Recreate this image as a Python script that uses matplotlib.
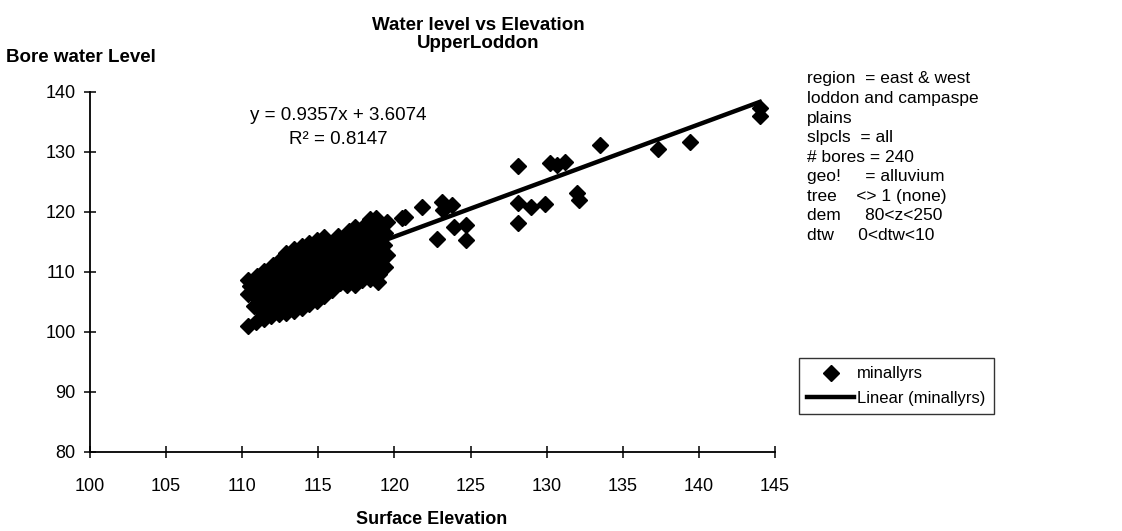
import matplotlib.pyplot as plt

plt.rcParams['font.family'] = ['Liberation Sans', 'DejaVu Sans']

# Surface elevation (x) and bore water level (y)
elev_cluster = [
    110.4, 110.4, 110.5, 110.4,
    110.9, 110.8, 111.0, 110.9, 110.8, 111.0,
    111.4, 111.3, 111.5, 111.4, 111.3, 111.5, 111.4,
    111.9, 112.0, 111.8, 111.9, 112.0, 111.9, 111.8, 112.0,
    112.4, 112.5, 112.3, 112.4, 112.5, 112.4, 112.3, 112.5,
    112.9, 113.0, 112.8, 112.9, 113.0, 112.9, 112.8, 113.0, 112.9,
    113.4, 113.5, 113.3, 113.4, 113.5, 113.4, 113.3, 113.5, 113.4,
    113.9, 114.0, 113.8, 113.9, 114.0, 113.9, 113.8, 114.0, 113.9,
    114.4, 114.5, 114.3, 114.4, 114.5, 114.4, 114.3, 114.5, 114.4,
    114.9, 115.0, 114.8, 114.9, 115.0, 114.9, 114.8, 115.0, 114.9,
    115.4, 115.5, 115.3, 115.4, 115.5, 115.4, 115.3, 115.5, 115.4,
    115.9, 116.0, 115.8, 115.9, 116.0, 115.9, 115.8,
    116.4, 116.5, 116.3, 116.4, 116.5, 116.4, 116.3,
    116.9, 117.0, 116.8, 116.9, 117.0, 116.9, 116.8, 117.0,
    117.4, 117.5, 117.3, 117.4, 117.5, 117.4, 117.3, 117.5, 117.4,
    117.9, 118.0, 117.8, 117.9, 118.0, 117.9, 117.8, 118.0,
    118.4, 118.5, 118.3, 118.4, 118.5, 118.4, 118.3, 118.5, 118.4,
    118.9, 119.0, 118.8, 118.9, 119.0, 118.9, 118.8,
    119.4, 119.5, 119.3, 119.4, 119.5,
]
level_cluster = [
    101.0, 106.3, 107.6, 108.6,
    101.6, 104.3, 105.6, 107.0, 108.3, 109.4,
    102.1, 103.4, 104.8, 106.2, 107.5, 108.8, 110.1,
    102.6, 103.9, 105.2, 106.5, 107.8, 109.1, 110.4, 111.2,
    103.0, 104.3, 105.6, 106.9, 108.2, 109.5, 110.8, 112.0,
    103.2, 104.5, 105.8, 107.1, 108.4, 109.7, 111.0, 112.3, 113.2,
    103.5, 104.8, 106.1, 107.4, 108.7, 110.0, 111.3, 112.6, 113.8,
    104.0, 105.3, 106.6, 107.9, 109.2, 110.5, 111.8, 113.1, 114.3,
    104.6, 105.9, 107.2, 108.5, 109.8, 111.1, 112.4, 113.7, 114.8,
    105.1, 106.4, 107.7, 109.0, 110.3, 111.6, 112.9, 114.2, 115.3,
    106.0, 107.3, 108.6, 109.9, 111.2, 112.5, 113.8, 115.1, 115.8,
    107.0, 108.3, 109.6, 110.9, 112.2, 113.5, 114.6,
    108.2, 109.5, 110.8, 112.1, 113.4, 114.7, 116.0,
    107.9, 109.2, 110.5, 111.8, 113.1, 114.4, 115.7, 116.8,
    107.8, 109.1, 110.4, 111.7, 113.0, 114.3, 115.6, 116.9, 117.5,
    108.6, 109.9, 111.2, 112.5, 113.8, 115.1, 116.4, 117.7,
    108.9, 110.2, 111.5, 112.8, 114.1, 115.4, 116.7, 118.0, 118.8,
    108.4, 109.7, 112.0, 113.9, 115.5, 117.3, 119.0,
    110.9, 112.8, 114.5, 116.5, 118.3,
]
elev_outer = [
    120.5, 120.7, 121.8, 123.1, 123.8, 123.2, 123.9, 124.7, 122.8, 124.7,
    128.1, 128.1, 129.0, 129.9, 128.1, 130.2, 130.7, 131.2, 132.0, 132.1,
    133.5, 137.3, 139.4, 144.0, 144.0,
]
level_outer = [
    119.0, 119.2, 120.8, 121.7, 121.2, 120.3, 117.5, 117.8, 115.5, 115.3,
    127.7, 121.5, 120.8, 121.3, 118.2, 128.2, 127.8, 128.3, 123.2, 122.0,
    131.2, 130.5, 131.7, 137.3, 136.0,
]
elev = elev_cluster + elev_outer
level = level_cluster + level_outer

slope, intercept, r2 = 0.9357, 3.6074, 0.8147

info_lines = [
    'region  = east & west',
    'loddon and campaspe',
    'plains',
    'slpcls  = all',
    '# bores = 240',
    'geo!     = alluvium',
    'tree    <> 1 (none)',
    'dem     80<z<250',
    'dtw     0<dtw<10',
]

W, H = 1122, 531
fig = plt.figure(figsize=(W / 100, H / 100), dpi=100)
ax = fig.add_axes([90 / W, 1 - 452 / H, (775 - 90) / W, (452 - 92) / H])

ax.plot(elev, level, linestyle='none', marker='D', markersize=8.5,
        color='black', label='minallyrs')
x0, x1 = min(elev), max(elev)
ax.plot([x0, x1], [slope * x0 + intercept, slope * x1 + intercept],
        color='black', linewidth=3.2, label='Linear (minallyrs)')

ax.set_xlim(100, 145)
ax.set_ylim(80, 140)
ax.set_xticks(range(100, 146, 5))
ax.set_yticks(range(80, 141, 10))
for s in ['top', 'right']:
    ax.spines[s].set_visible(False)
for s in ['left', 'bottom']:
    ax.spines[s].set_linewidth(1.3)
ax.tick_params(axis='both', direction='inout', length=9, width=1.1,
               labelsize=13)
ax.tick_params(axis='x', pad=14)
ax.tick_params(axis='y', pad=6)

fig.text(478 / W, 1 - 25 / H, 'Water level vs Elevation', ha='center',
         va='center', fontsize=13.5, fontweight='bold')
fig.text(478 / W, 1 - 44 / H, 'UpperLoddon', ha='center',
         va='center', fontsize=13.5, fontweight='bold')
fig.text(6 / W, 1 - 58 / H, 'Bore water Level', ha='left', va='center',
         fontsize=13.5, fontweight='bold')
fig.text(432 / W, 1 - 520 / H, 'Surface Elevation', ha='center',
         va='center', fontsize=13, fontweight='bold')

fig.text(338 / W, 1 - 115 / H, f'y = {slope}x + {intercept}', ha='center',
         va='center', fontsize=13.5)
fig.text(338 / W, 1 - 139 / H, f'R² = {r2}', ha='center', va='center',
         fontsize=13.5)

for i, line in enumerate(info_lines):
    fig.text(807 / W, 1 - (79 + i * 19.5) / H, line, ha='left', va='center',
             fontsize=12.5)

leg = fig.legend(loc='upper left', bbox_to_anchor=(794 / W, 1 - 353 / H),
                 fontsize=12, frameon=True, fancybox=False,
                 handlelength=2.8, borderpad=0.5, labelspacing=0.55,
                 handletextpad=0.2, borderaxespad=0.3)
leg.get_frame().set_edgecolor('black')
leg.get_frame().set_linewidth(1.0)

fig.savefig('out.png', dpi=100)
